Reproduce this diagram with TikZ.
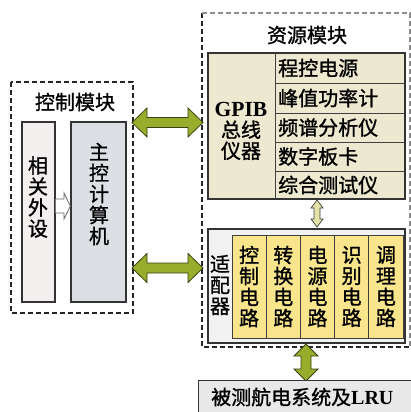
\documentclass[tikz,border=0pt]{standalone}
\usepackage{fontspec}
\setmainfont{Liberation Serif}
\newfontfamily\cjk[FakeBold=1.2]{Noto Sans CJK SC}
\definecolor{periphc}{HTML}{F3EFEF}
\definecolor{mainc}{HTML}{DCDFE4}
\definecolor{gpibc}{HTML}{ECE9D0}
\definecolor{adaptc}{HTML}{F2F2F2}
\definecolor{cellc}{HTML}{F9E68C}
\definecolor{lruc}{HTML}{E8E8E8}
\definecolor{arrowgreen}{HTML}{97AD2B}
\definecolor{arrowdark}{HTML}{3A4010}
\definecolor{smallarrow}{HTML}{E3E3A8}
\begin{document}
\begin{tikzpicture}[x=1pt,y=-1pt,
  lbl/.style={font=\cjk\fontsize{20}{21}\selectfont, align=center, inner sep=0pt},
  box/.style={draw=black!80, line width=1.3pt, inner sep=0pt},
  thinbox/.style={draw=black!75, line width=0.8pt, inner sep=0pt},
  dashbox/.style={draw=black!85, dash pattern=on 5pt off 3pt, line width=1.3pt},
  greenarrow/.style={fill=arrowgreen, draw=arrowdark, line width=0.8pt, line join=miter},
]
\useasboundingbox (0,0) rectangle (411,412);

% control module
\draw[dashbox] (11,82) rectangle (133,313);
\node[lbl] (ctitle) at (75,102) {控制模块};
\node[box, fill=periphc, minimum width=33, minimum height=180] (periph) at (38.5,212) {};
\node[lbl] at (38,197) {相\\关\\外\\设};
\node[box, fill=mainc, minimum width=55, minimum height=180] (mainpc) at (98.5,212) {};
\node[lbl] at (99,194) {主\\控\\计\\算\\机};
% hollow arrow periph -> main
\draw[draw=black!60, fill=white, line width=0.8pt]
  (periph.east |- 0,199) -- (64,199) -- (64,193) -- (mainpc.west |- 0,206) -- (64,219) -- (64,213) -- (periph.east |- 0,213);

% resource module
\draw[dashbox] (202,13) -- (202,347) -- (410,347);
\draw[dashbox, draw=black!45] (202,13) -- (410,13) -- (410,347);
\node[lbl] (rtitle) at (307,35) {资源模块};

% GPIB block
\node[box, fill=gpibc, minimum width=197, minimum height=146] (gpib) at (306.5,126) {};
\draw[thinbox] (275,53) -- (275,199);
\foreach \yy in {83,113,142,171} \draw[thinbox] (275,\yy) -- (405,\yy);
\node[lbl, align=center] at (241,131) {{\rmfamily\bfseries\fontsize{21.5}{21}\selectfont GPIB}\\总线\\仪器};
\node[lbl, anchor=west] at (278,68) {程控电源};
\node[lbl, anchor=west] at (278,98) {峰值功率计};
\node[lbl, anchor=west] at (278,127.5) {频谱分析仪};
\node[lbl, anchor=west] at (278,156.5) {数字板卡};
\node[lbl, anchor=west] at (278,185) {综合测试仪};

% adaptor
\node[box, fill=adaptc, minimum width=197, minimum height=114] (adapt) at (306.5,286) {};
\node[lbl] at (220,285) {适\\配\\器};
\foreach \i/\t in {0/{控\\制\\电\\路},1/{转\\换\\电\\路},2/{电\\源\\电\\路},3/{识\\别\\电\\路},4/{调\\理\\电\\路}} {
  \node[thinbox, fill=cellc, minimum width=34.2, minimum height=103] (cell\i) at (249.1+\i*34.2,286.5) {};
  \node[lbl] at (cell\i) {\t};
}

% small vertical arrow gpib <-> adaptor
\draw[fill=smallarrow, draw=black!75, line width=0.7pt]
  (317,200) -- (323,208) -- (320,208) -- (320,219) -- (323,219) -- (317,227)
  -- (311,219) -- (314,219) -- (314,208) -- (311,208) -- cycle;

% green arrows
\draw[greenarrow] (132,122.5) -- (147,108) -- (147,117.5) -- (188,117.5) -- (188,108) -- (203,122.5)
  -- (188,137) -- (188,127.5) -- (147,127.5) -- (147,137) -- cycle;
\draw[greenarrow] (132,268) -- (147,253.5) -- (147,263) -- (188,263) -- (188,253.5) -- (203,268)
  -- (188,282.5) -- (188,273) -- (147,273) -- (147,282.5) -- cycle;
\draw[greenarrow] (306,344) -- (318,356) -- (311,356) -- (311,369) -- (318,369) -- (306,381)
  -- (294,369) -- (301,369) -- (301,356) -- (294,356) -- cycle;

% LRU box
\node[box, fill=lruc, minimum width=220, minimum height=40, anchor=north west] (lru) at (198,380) {};
\node[lbl, anchor=west] at (211,397) {被测航电系统及{\rmfamily\bfseries LRU}};
\end{tikzpicture}
\end{document}
